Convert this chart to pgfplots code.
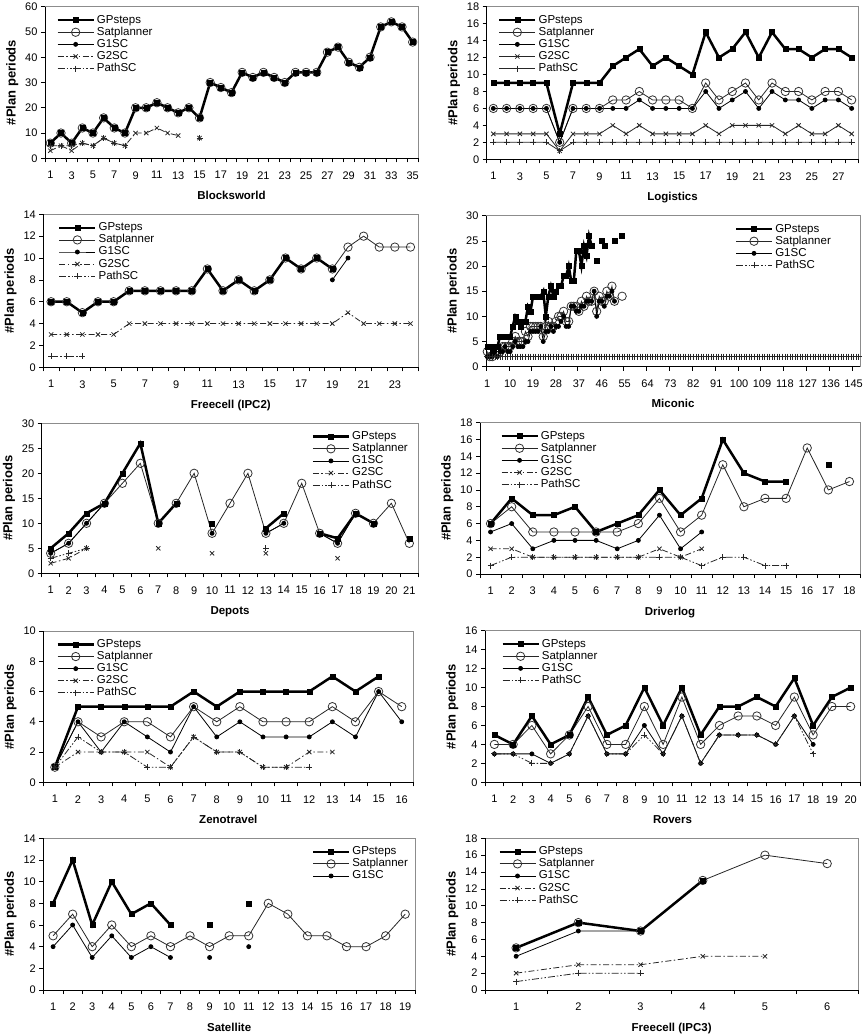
\documentclass[border=0pt]{standalone}
\usepackage{fontspec}
\setmainfont{Liberation Sans}
\usepackage{pgfplots}
\usepackage{pgfplotstable}
\pgfplotsset{compat=1.18}

% ---------- data: plan periods per problem (nan = no plan) ----------
\pgfplotstableread{
x gp sat g1 g2 path
1 6 6 6 3 5
2 10 10 10 5 5
3 6 6 6 3 5
4 12 12 12 6 6
5 10 10 10 5 5
6 16 16 16 8 8
7 12 12 12 6 6
8 10 10 10 5 5
9 20 20 20 10 nan
10 20 20 20 10 nan
11 22 22 22 12 nan
12 20 20 20 10 nan
13 18 18 18 9 nan
14 20 20 20 nan nan
15 16 16 16 8 8
16 30 30 30 nan nan
17 28 28 28 nan nan
18 26 26 26 nan nan
19 34 34 34 nan nan
20 32 32 32 nan nan
21 34 34 34 nan nan
22 32 32 32 nan nan
23 30 30 30 nan nan
24 34 34 34 nan nan
25 34 34 34 nan nan
26 34 34 34 nan nan
27 42 42 42 nan nan
28 44 44 44 nan nan
29 38 38 38 nan nan
30 36 36 36 nan nan
31 40 40 40 nan nan
32 52 52 52 nan nan
33 54 54 54 nan nan
34 52 52 52 nan nan
35 46 46 46 nan nan
}\blocksworld

\pgfplotstableread{
x gp sat g1 g2 path
1 9 6 6 3 2
2 9 6 6 3 2
3 9 6 6 3 2
4 9 6 6 3 2
5 9 6 6 3 2
6 3 2 2 1 1
7 9 6 6 3 2
8 9 6 6 3 2
9 9 6 6 3 2
10 11 7 6 4 2
11 12 7 6 3 2
12 13 8 7 4 2
13 11 7 6 3 2
14 12 7 6 3 2
15 11 7 6 3 2
16 10 6 6 3 2
17 15 9 8 4 2
18 12 7 6 3 2
19 13 8 7 4 2
20 15 9 8 4 2
21 12 7 6 4 2
22 15 9 8 4 2
23 13 8 7 3 2
24 13 8 7 4 2
25 12 7 6 3 2
26 13 8 7 3 2
27 13 8 7 4 2
28 12 7 6 3 2
}\logistics

\pgfplotstableread{
x gp sat g1 g2 path
1 6 6 6 3 1
2 6 6 6 3 1
3 5 5 5 3 1
4 6 6 6 3 nan
5 6 6 6 3 nan
6 7 7 7 4 nan
7 7 7 7 4 nan
8 7 7 7 4 nan
9 7 7 7 4 nan
10 7 7 7 4 nan
11 9 9 9 4 nan
12 7 7 7 4 nan
13 8 8 8 4 nan
14 7 7 7 4 nan
15 8 8 8 4 nan
16 10 10 10 4 nan
17 9 9 9 4 nan
18 10 10 nan 4 nan
19 9 9 8 4 nan
20 nan 11 10 5 nan
21 nan 12 nan 4 nan
22 nan 11 nan 4 nan
23 nan 11 nan 4 nan
24 nan 11 nan 4 nan
}\freecelltwo

\pgfplotstableread{
x gp sat g1
1 4 3 2
2 4 2 2
3 3 2 2
4 4 3 3
5 4 3 2
6 6 3 3
7 6 4 3
8 6 4 4
9 6 4 3
10 6 4 3
11 8 5 4
12 10 6 5
13 9 5 4
14 8 5 4
15 9 5 4
16 9 7 5
17 12 6 5
18 11 8 7
19 14 8 7
20 14 8 7
21 14 8 7
22 14 8 8
23 15 6 5
24 10 8 7
25 14 9 7
26 16 8 8
27 14 8 7
28 15 9 8
29 16 10 8
30 16 10 9
31 18 11 10
32 18 9 8
33 20 9 8
34 17 12 12
35 17 12 12
36 23 12 11
37 23 11 11
38 20 13 12
39 24 12 12
40 22 14 13
41 26 13 13
42 24 13 13
43 nan 15 15
44 21 11 10
45 nan 14 13
46 25 13 13
47 24 13 12
48 nan 15 14
49 nan 14 14
50 nan 16 15
51 25 13 13
52 nan nan nan
53 nan nan nan
54 26 14 nan
}\miconic

\pgfplotstableread{
x gp sat g1 g2 path
1 5 4 4 2 3
2 8 6 6 3 4
3 12 10 10 5 5
4 14 14 14 nan nan
5 20 18 nan nan nan
6 26 22 nan nan nan
7 10 10 10 5 nan
8 14 14 14 nan nan
9 nan 20 nan nan nan
10 10 8 8 4 nan
11 nan 14 nan nan nan
12 nan 20 nan nan nan
13 9 8 8 4 5
14 12 10 10 nan nan
15 nan 18 nan nan nan
16 8 8 8 nan nan
17 7 6 6 3 nan
18 12 12 12 nan nan
19 10 10 10 nan nan
20 nan 14 nan nan nan
21 7 6 nan nan nan
}\depots

\pgfplotstableread{
x gp sat g1 g2 path
1 6 6 5 3 1
2 9 8 6 3 2
3 7 5 3 2 2
4 7 5 4 2 2
5 8 5 4 2 2
6 5 5 4 2 2
7 6 5 3 2 2
8 7 6 4 2 2
9 10 9 7 3 2
10 7 5 3 2 2
11 9 7 5 3 1
12 16 13 nan nan 2
13 12 8 nan nan 2
14 11 9 nan nan 1
15 11 9 nan nan 1
16 nan 15 nan nan nan
17 13 10 nan nan nan
18 nan 11 nan nan nan
}\driverlog

\pgfplotstableread{
x gp sat g1 g2 path
1 1 1 1 1 1
2 5 4 4 2 3
3 5 3 2 2 2
4 5 4 4 2 2
5 5 4 3 2 1
6 5 3 2 1 1
7 6 5 5 3 3
8 5 4 3 2 2
9 6 5 4 2 2
10 6 4 3 1 1
11 6 4 3 1 1
12 6 4 3 2 1
13 7 5 4 2 nan
14 6 4 3 nan nan
15 7 6 6 nan nan
16 nan 5 4 nan nan
}\zenotravel

\pgfplotstableread{
x gp sat g1 path
1 5 4 3 3
2 4 4 3 3
3 7 6 3 2
4 4 3 2 2
5 5 5 3 3
6 9 8 7 7
7 5 4 3 3
8 6 4 3 3
9 10 8 6 5
10 6 4 3 3
11 10 9 7 7
12 5 4 2 2
13 8 6 5 5
14 8 7 5 5
15 9 7 5 5
16 8 6 4 4
17 11 9 7 7
18 6 5 4 3
19 9 8 nan nan
20 10 8 nan nan
}\rovers

\pgfplotstableread{
x gp sat g1
1 8 5 4
2 12 7 6
3 6 4 3
4 10 6 5
5 7 4 3
6 8 5 4
7 6 4 3
8 nan 5 nan
9 6 4 3
10 nan 5 nan
11 8 5 4
12 nan 8 nan
13 nan 7 nan
14 nan 5 nan
15 nan 5 nan
16 nan 4 nan
17 nan 4 nan
18 nan 5 nan
19 nan 7 nan
}\satellite

\pgfplotstableread{
x gp sat g1 g2 path
1 5 5 4 2 1
2 8 8 7 3 2
3 7 7 7 3 2
4 13 13 13 4 nan
5 nan 16 nan 4 nan
6 nan 15 nan nan nan
}\freecellthree

% ---------- styles ----------
\pgfplotsset{
  planpanel/.style={
    scale only axis,
    anchor=north west,
    axis x line*=bottom, axis y line*=left,
    axis background/.style={draw=black!45, line width=0.6pt},
    axis line style={black, line width=0.8pt},
    tick align=outside,
    major tick length=4pt, minor tick length=4pt,
    every tick/.append style={black, line width=0.7pt},
    major x tick style={draw=none},
    ymin=0,
    clip=false,
    unbounded coords=jump,
    /pgf/number format/assume math mode=true,
    tick label style={font=\fontsize{11}{12}\selectfont},
    xticklabel style={yshift=-5.5pt},
    ylabel={\#Plan periods},
    ylabel style={font=\bfseries\fontsize{13}{15}\selectfont},
    xlabel style={font=\bfseries\fontsize{11.5}{13}\selectfont,
      at={(axis description cs:0.5,0)}, anchor=base, yshift=-41pt},
    legend cell align=left,
    legend style={draw=none, fill=none, font=\fontsize{11.5}{12}\selectfont,
      row sep=0.2pt,
      nodes={inner ysep=0.5pt, inner xsep=2pt, text height=8.4pt, text depth=2.5pt},
      at={(0.022,0.965)}, anchor=north west},
    legend image code/.code={%
      \draw[mark repeat=2,mark phase=2] plot coordinates {(0pt,0pt) (18pt,0pt) (36pt,0pt)};},
  },
  legend top left/.style={legend style={at={(#1,0.965)}, anchor=north west}},
  legend top right/.style={legend style={at={(#1,0.965)}, anchor=north east}},
  gpstyle/.style={black, line width=2.5pt, mark=square*, mark size=2.5pt,
    mark options={solid, line width=0.4pt}},
  satstyle/.style={black!85, line width=0.8pt, mark=o, mark size=4.2pt,
    mark options={solid, fill=white, draw=black!80, line width=0.8pt}},
  g1style/.style={black, line width=0.8pt, mark=*, mark size=2pt, mark options={solid}},
  g2style/.style={black!85, line width=0.8pt,
    dash pattern=on 6pt off 2.5pt on 1.5pt off 2.5pt,
    mark=x, mark size=3pt, mark options={solid, line width=0.8pt}},
  pathstyle/.style={black!85, line width=0.8pt,
    dash pattern=on 7pt off 2pt on 1.5pt off 2pt on 1.5pt off 2pt,
    mark=+, mark size=3pt, mark options={solid, line width=0.8pt}},
}

% legend samples for the five planners (series themselves are drawn with forget plot)
\newcommand{\legendfive}[1][]{%
  \addlegendimage{gpstyle}\addlegendimage{satstyle}\addlegendimage{g1style}%
  \addlegendimage{g2style,#1}\addlegendimage{pathstyle,#1}%
  \legend{GPsteps,Satplanner,G1SC,G2SC,PathSC}}

\begin{document}
\begin{tikzpicture}
\path[use as bounding box] (0,0) rectangle (862pt,-1035pt);

% ---------- Blocksworld ----------
\begin{axis}[planpanel, at={(45pt,-6.7pt)}, width=373pt, height=151.6pt,
  xmin=0.5, xmax=35.5, ymax=60, ytick={0,10,...,60},
  xtick={1,3,...,35}, minor xtick={0.5,1.5,...,35.5},
  xlabel={Blocksworld}]
\legendfive
\addplot[satstyle, forget plot] table[y=sat] {\blocksworld};
\addplot[gpstyle, forget plot] table[y=gp] {\blocksworld};
\addplot[g1style, forget plot] table[y=g1] {\blocksworld};
\addplot[g2style, forget plot] table[y=g2] {\blocksworld};
\addplot[pathstyle, forget plot] table[y=path] {\blocksworld};
\end{axis}

% ---------- Logistics ----------
\begin{axis}[planpanel, at={(486.7pt,-6.7pt)}, width=371.6pt, height=152.6pt,
  xmin=0.5, xmax=28.5, ymax=18, ytick={0,2,...,18},
  xtick={1,3,...,27}, minor xtick={0.5,1.5,...,28.5},
  xlabel={Logistics}]
\legendfive[solid]
\addplot[satstyle, forget plot] table[y=sat] {\logistics};
\addplot[gpstyle, forget plot] table[y=gp] {\logistics};
\addplot[g1style, forget plot] table[y=g1] {\logistics};
\addplot[g2style, solid, forget plot] table[y=g2] {\logistics};
\addplot[pathstyle, solid, forget plot] table[y=path] {\logistics};
\end{axis}

% ---------- Freecell (IPC2) ----------
\begin{axis}[planpanel, at={(43.3pt,-214.3pt)}, width=375pt, height=153pt,
  xmin=0.5, xmax=24.5, ymax=14, ytick={0,2,...,14},
  xtick={1,3,...,23}, minor xtick={0.5,1.5,...,24.5},
  xlabel={Freecell (IPC2)}, legend top left=0.031]
\legendfive
\addplot[satstyle, forget plot] table[y=sat] {\freecelltwo};
\addplot[gpstyle, forget plot] table[y=gp] {\freecelltwo};
\addplot[g1style, forget plot] table[y=g1] {\freecelltwo};
\addplot[g2style, forget plot] table[y=g2] {\freecelltwo};
\addplot[pathstyle, forget plot] table[y=path] {\freecelltwo};
\end{axis}

% ---------- Miconic ----------
\begin{axis}[planpanel, at={(486pt,-215.7pt)}, width=374pt, height=151pt,
  xmin=0.5, xmax=147.5, ymax=30, ytick={0,5,...,30},
  xtick={1,10,...,145}, minor xtick={0.5,9.5,...,144.5},
  xlabel={Miconic}, legend top right=0.936]
\addlegendimage{gpstyle}\addlegendimage{satstyle}\addlegendimage{g1style}\addlegendimage{pathstyle}
\legend{GPsteps,Satplanner,G1SC,PathSC}
\addplot[satstyle, forget plot] table[y=sat] {\miconic};
\addplot[gpstyle, forget plot] table[y=gp] {\miconic};
\addplot[g1style, forget plot] table[y=g1] {\miconic};
\addplot[pathstyle, forget plot] coordinates {
(1,2) (2,2) (3,2) (4,2) (5,2) (6,2) (7,2) (8,2) (9,2) (10,2) (11,2) (12,2) (13,2) (14,2) (15,2)
(16,2) (17,2) (18,2) (19,2) (20,2) (21,2) (22,2) (23,2) (24,2) (25,2) (26,2) (27,2) (28,2) (29,2) (30,2)
(31,2) (32,2) (33,2) (34,2) (35,2) (36,2) (37,2) (38,2) (39,2) (40,2) (41,2) (42,2) (43,2) (44,2) (45,2)
(46,2) (47,2) (48,2) (49,2) (50,2) (51,2) (52,2) (53,2) (54,2) (55,2) (56,2) (57,2) (58,2) (59,2) (60,2)
(61,2) (62,2) (63,2) (64,2) (65,2) (66,2) (67,2) (68,2) (69,2) (70,2) (71,2) (72,2) (73,2) (74,2) (75,2)
(76,2) (77,2) (78,2) (79,2) (80,2) (81,2) (82,2) (83,2) (84,2) (85,2) (86,2) (87,2) (88,2) (89,2) (90,2)
(91,2) (92,2) (93,2) (94,2) (95,2) (96,2) (97,2) (98,2) (99,2) (100,2) (101,2) (102,2) (103,2) (104,2) (105,2)
(106,2) (107,2) (108,2) (109,2) (110,2) (111,2) (112,2) (113,2) (114,2) (115,2) (116,2) (117,2) (118,2) (119,2) (120,2)
(121,2) (122,2) (123,2) (124,2) (125,2) (126,2) (127,2) (128,2) (129,2) (130,2) (131,2) (132,2) (133,2) (134,2) (135,2)
(136,2) (137,2) (138,2) (139,2) (140,2) (141,2) (142,2) (143,2) (144,2) (145,2) (146,2) (147,2)
};
\end{axis}

% ---------- Depots ----------
\begin{axis}[planpanel, at={(41.7pt,-423.3pt)}, width=376.6pt, height=150pt,
  xmin=0.5, xmax=21.5, ymax=30, ytick={0,5,...,30},
  xtick={1,2,...,21}, minor xtick={0.5,1.5,...,21.5},
  xlabel={Depots}, legend top right=0.986]
\legendfive
\addplot[satstyle, forget plot] table[y=sat] {\depots};
\addplot[gpstyle, forget plot] table[y=gp] {\depots};
\addplot[g1style, forget plot] table[y=g1] {\depots};
\addplot[g2style, forget plot] table[y=g2] {\depots};
\addplot[pathstyle, forget plot] table[y=path] {\depots};
\end{axis}

% ---------- Driverlog ----------
\begin{axis}[planpanel, at={(480pt,-422.7pt)}, width=380pt, height=151.3pt,
  xmin=0.5, xmax=18.5, ymax=18, ytick={0,2,...,18},
  xtick={1,2,...,18}, minor xtick={0.5,1.5,...,18.5},
  xlabel={Driverlog}, legend top left=0.045]
\legendfive
\addplot[satstyle, forget plot] table[y=sat] {\driverlog};
\addplot[gpstyle, forget plot] table[y=gp] {\driverlog};
\addplot[g1style, forget plot] table[y=g1] {\driverlog};
\addplot[g2style, forget plot] table[y=g2] {\driverlog};
\addplot[pathstyle, forget plot] table[y=path] {\driverlog};
\end{axis}

% ---------- Zenotravel ----------
\begin{axis}[planpanel, at={(43.3pt,-631pt)}, width=370pt, height=151.3pt,
  xmin=0.5, xmax=16.5, ymax=10, ytick={0,2,...,10},
  xtick={1,2,...,16}, minor xtick={0.5,1.5,...,16.5},
  xlabel={Zenotravel}, legend top left=0.027]
\legendfive
\addplot[satstyle, forget plot] table[y=sat] {\zenotravel};
\addplot[gpstyle, forget plot] table[y=gp] {\zenotravel};
\addplot[g1style, forget plot] table[y=g1] {\zenotravel};
\addplot[g2style, forget plot] table[y=g2] {\zenotravel};
\addplot[pathstyle, forget plot] table[y=path] {\zenotravel};
\end{axis}

% ---------- Rovers ----------
\begin{axis}[planpanel, at={(485pt,-630.7pt)}, width=375pt, height=151.6pt,
  xmin=0.5, xmax=20.5, ymax=16, ytick={0,2,...,16},
  xtick={1,2,...,20}, minor xtick={0.5,1.5,...,20.5},
  xlabel={Rovers}, legend top left=0.035]
\addlegendimage{gpstyle}\addlegendimage{satstyle}\addlegendimage{g1style}\addlegendimage{pathstyle}
\legend{GPsteps,Satplanner,G1SC,PathSC}
\addplot[satstyle, forget plot] table[y=sat] {\rovers};
\addplot[gpstyle, forget plot] table[y=gp] {\rovers};
\addplot[g1style, forget plot] table[y=g1] {\rovers};
\addplot[pathstyle, forget plot] table[y=path] {\rovers};
\end{axis}

% ---------- Satellite ----------
\begin{axis}[planpanel, at={(43.3pt,-838.3pt)}, width=371.7pt, height=151.7pt,
  xmin=0.5, xmax=19.5, ymax=14, ytick={0,2,...,14},
  xtick={1,2,...,19}, minor xtick={0.5,1.5,...,19.5},
  xlabel={Satellite}, legend top right=0.995]
\addlegendimage{gpstyle}\addlegendimage{satstyle}\addlegendimage{g1style}
\legend{GPsteps,Satplanner,G1SC}
\addplot[satstyle, forget plot] table[y=sat] {\satellite};
\addplot[gpstyle, forget plot] table[y=gp] {\satellite};
\addplot[g1style, forget plot] table[y=g1] {\satellite};
\end{axis}

% ---------- Freecell (IPC3) ----------
\begin{axis}[planpanel, at={(485pt,-838.3pt)}, width=373.3pt, height=151.7pt,
  xmin=0.5, xmax=6.5, ymax=18, ytick={0,2,...,18},
  xtick={1,2,...,6}, minor xtick={0.5,1.5,...,6.5},
  xlabel={Freecell (IPC3)}, legend top left=0.027]
\legendfive
\addplot[satstyle, forget plot] table[y=sat] {\freecellthree};
\addplot[gpstyle, forget plot] table[y=gp] {\freecellthree};
\addplot[g1style, forget plot] table[y=g1] {\freecellthree};
\addplot[g2style, forget plot] table[y=g2] {\freecellthree};
\addplot[pathstyle, forget plot] table[y=path] {\freecellthree};
\end{axis}
\end{tikzpicture}
\end{document}
